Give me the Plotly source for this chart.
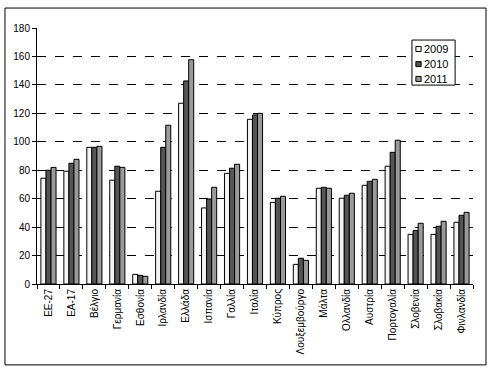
import plotly.graph_objects as go

categories = ["ΕΕ-27", "ΕΑ-17", "Βέλγιο", "Γερμανία", "Εσθονία", "Ιρλανδία", "Ελλάδα",
              "Ισπανία", "Γαλλία", "Ιταλία", "Κύπρος", "Λουξεμβούργο", "Μάλτα",
              "Ολλανδία", "Αυστρία", "Πορτογαλία", "Σλοβενία", "Σλοβακία", "Φινλανδία"]
v2009 = [74.4, 79.3, 96.1, 73.0, 6.8, 65.2, 127.1, 53.5, 77.8, 115.8, 57.4, 13.8, 67.3,
         60.3, 69.4, 82.8, 34.9, 34.9, 43.4]
v2010 = [80.0, 84.9, 96.1, 82.8, 6.1, 96.1, 142.8, 59.8, 81.4, 118.9, 60.3, 18.1, 68.0,
         62.4, 72.2, 92.6, 37.7, 40.6, 48.3]
v2011 = [82.0, 87.7, 96.8, 82.0, 5.4, 111.6, 157.7, 68.0, 84.2, 120.0, 61.7, 16.6, 67.3,
         63.8, 73.6, 101.1, 42.7, 44.1, 50.4]
years = ["2009", "2010", "2011"]
colors = ["#f4f4f4", "#555555", "#9a9a9a"]

fig = go.Figure()
for name, vals, col in zip(years, [v2009, v2010, v2011], colors):
    fig.add_trace(go.Bar(x=categories, y=vals, name=name, showlegend=False,
                         marker=dict(color=col, line=dict(color="black", width=1))))

fig.update_layout(
    template="none",
    width=492, height=371,
    margin=dict(l=37, r=19, t=28, b=87, pad=0),
    paper_bgcolor="white", plot_bgcolor="white",
    barmode="group", bargap=0.34, bargroupgap=0,
    font=dict(family="Liberation Sans, Arial, sans-serif", size=10, color="black"),
    showlegend=False,
)
fig.update_xaxes(showline=True, linecolor="black", linewidth=1, ticks="outside",
                 tickson="boundaries", ticklen=4, tickcolor="black", tickangle=-90,
                 showgrid=False, tickfont=dict(size=10), automargin=False)
fig.update_yaxes(range=[0, 180], dtick=20, showline=True, linecolor="black", linewidth=1,
                 ticks="outside", ticklen=4, tickcolor="black",
                 showgrid=True, gridcolor="black", griddash="dash", gridwidth=1,
                 zeroline=False, tickfont=dict(size=10), automargin=False)

# outer chart border
fig.add_shape(type="rect", xref="paper", yref="paper",
              x0=-0.0734, x1=1.0298, y0=-0.316, y1=1.078,
              line=dict(color="black", width=1), fillcolor="rgba(0,0,0,0)", layer="above")

# compact legend box (Excel style)
fig.add_shape(type="rect", xref="paper", yref="paper",
              x0=0.860, x1=0.959, y0=0.777, y1=0.953,
              line=dict(color="black", width=1), fillcolor="white", layer="above")
legend_y = [0.918, 0.859, 0.801]
for name, col, yc in zip(years, colors, legend_y):
    fig.add_shape(type="rect", xref="paper", yref="paper",
                  x0=0.869, x1=0.881, y0=yc - 0.0098, y1=yc + 0.0098,
                  line=dict(color="black", width=1), fillcolor=col, layer="above")
    fig.add_annotation(xref="paper", yref="paper", x=0.884, y=yc, text=name,
                       showarrow=False, xanchor="left", yanchor="middle",
                       font=dict(size=11, color="black"))

fig.write_html("out.html", config={"displayModeBar": False},
               post_script="document.body.style.margin='0';document.body.style.padding='0';document.body.style.overflow='hidden';")
